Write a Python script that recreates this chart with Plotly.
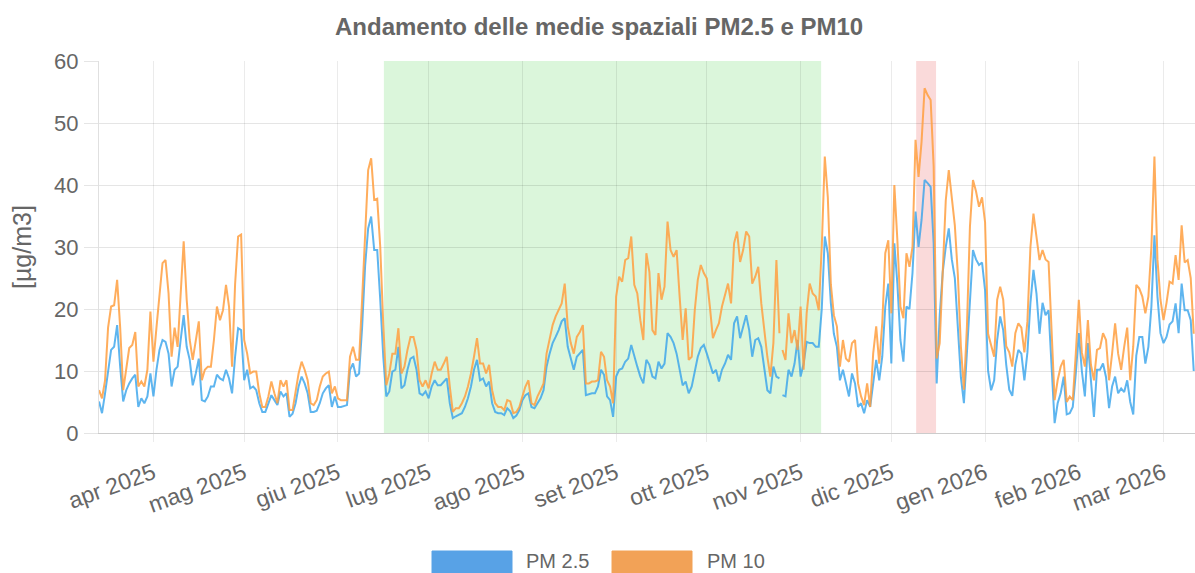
import datetime as dt
import plotly.graph_objects as go

START_DATE = "2025-03-14"

pm10 = [
    6.9, 5.6, 8.5, 17, 20.4, 20.6, 24.7, 17, 6.9, 10.7,
    13.7, 14.2, 16.3, 7.5, 8.3, 7.5, 10.2, 19.6, 11.5, 17,
    22.5, 27.4, 27.9, 22.5, 12.3, 17, 13.9, 23, 30.9, 21.5,
    15, 11.8, 15, 18, 8.5, 10.2, 10.7, 10.7, 15, 20.4,
    18.2, 19.8, 23.9, 20.4, 10.7, 24, 31.7, 32, 15, 12.8,
    9.6, 9.9, 9.9, 6.4, 4.2, 4.2, 5.9, 8.3, 6.4, 4.8,
    8.5, 7.5, 8.5, 3.7, 3.7, 6.4, 9.6, 11.5, 10.2, 8.5,
    4.8, 4.5, 5.3, 7.5, 9.1, 9.6, 9.9, 6.4, 7.5, 5.6,
    5.3, 5.3, 5.3, 12.3, 13.9, 11.8, 11.8, 21.5, 31, 42.4,
    44.3, 37.6, 37.8, 30, 17.5, 7.7, 9.6, 12.8, 12.8, 16.9,
    9.6, 10.7, 13.4, 15.5, 15.5, 13.4, 8.5, 7.5, 8.5, 7.2,
    9.6, 11.5, 10.2, 10.2, 11.2, 12.3, 7.5, 3.4, 4, 4,
    4.8, 5.9, 7.5, 9.6, 12.3, 15.3, 11.2, 11.2, 9.6, 11,
    6.9, 4.8, 4.2, 4.2, 3.7, 5.3, 5.1, 3.2, 3.4, 4.2,
    5.9, 7.5, 8.5, 4.8, 4.5, 5.9, 6.9, 8, 12.8, 15.3,
    17.4, 18.8, 19.8, 20.9, 24.1, 17.2, 14.5, 12.8, 15.5, 16.3,
    17.4, 8, 8, 8.3, 8.3, 8.5, 13.1, 12.3, 8.5, 7.5,
    4.8, 22, 25.2, 24.4, 27.9, 28.2, 31.7, 23.9, 22.5, 18.2,
    15, 29, 26, 16.6, 15.8, 25.8, 21.5, 23.6, 34.1, 29.5,
    28.4, 29.5, 22, 15, 20.1, 11.8, 12.3, 19.8, 24.7, 27.1,
    25.8, 24.9, 20.4, 15.3, 16.6, 17.7, 20.4, 22.5, 24.1, 20.9,
    30.6, 32.5, 27.6, 29.5, 32.5, 31.7, 24.1, 25.2, 26.8, 20.9,
    16, 12.3, 9.1, 14.5, 27.9, 16.1, 13.4, 11.8, 19.3, 14.5,
    16.6, 13.4, 20.4, 10.2, 19.3, 24.1, 22.5, 22, 19.8, 30,
    44.6, 38, 24, 19, 17.2, 10.7, 15, 12, 11.5, 14.5,
    15, 8, 5.9, 4.5, 8, 4.2, 12.8, 17.2, 11.2, 17.7,
    29, 31.1, 19.3, 40, 31.1, 20.4, 18.5, 29, 26.8, 30,
    47.3, 41.3, 47, 55.6, 54.5, 53.7, 43, 12, 14.5, 25.2,
    37.5, 42.4, 37.6, 33.5, 25.5, 14, 7, 17.2, 33.3, 40.8,
    39, 36.5, 38, 34, 16, 13.9, 12.3, 21.5, 23.6, 21.5,
    14, 13, 10.7, 16.1, 17.7, 17, 13, 18, 30, 35.4,
    32, 27.9, 29.5, 28, 27.6, 17.2, 5.3, 8.5, 10.7, 11.8,
    5, 5.9, 5.3, 12.8, 21.5, 13, 10.7, 18.2, 11, 8.5,
    13.4, 13.7, 16.1, 15, 8.5, 12.8, 17.7, 12.8, 10.2, 13.9,
    17, 8.5, 14, 23.9, 23.3, 22, 19.3, 22, 30, 44.6,
    28, 21.5, 18.2, 21, 24.4, 24.1, 28.7, 24.7, 33.5, 27.5,
    27.9, 25, 16,
]

pm25 = [
    5.1, 3.2, 6.4, 10.2, 13.4, 13.9, 17.4, 10.7, 5.1, 6.9,
    8, 8.8, 9.4, 4.2, 5.6, 4.8, 5.9, 9.6, 5.9, 10.2,
    13.4, 15, 14.7, 12.8, 7.5, 10.2, 10.7, 15, 19, 13.9,
    11.8, 7.7, 9.6, 12, 5.3, 5.1, 5.9, 7.5, 7.5, 9.4,
    8.8, 8.5, 10.2, 8.8, 6.4, 12.3, 16.9, 16.6, 8.5, 10.2,
    7.2, 7.5, 6.9, 4.8, 3.4, 3.4, 4.8, 6.1, 5.3, 4.5,
    6.7, 5.9, 6.4, 2.6, 3.1, 4.8, 7.5, 9.1, 8, 6.4,
    3.4, 3.4, 3.6, 4.8, 6.4, 7.2, 7.7, 4.2, 5.9, 4.2,
    4.2, 4.4, 4.5, 10.2, 11.2, 9.1, 9.6, 17, 27, 33,
    34.9, 29.5, 29.5, 21.5, 12.3, 5.9, 6.7, 9.9, 10.2, 13.9,
    7.2, 7.7, 10.2, 12, 12.3, 10.2, 6.4, 6.1, 6.7, 5.6,
    7.5, 8.5, 7.7, 7.7, 8.3, 8.8, 4.8, 2.4, 2.7, 2.9,
    3.2, 4.2, 5.6, 7.5, 10.2, 11.8, 8.5, 8.8, 7.5, 8.3,
    4.8, 3.4, 3.2, 3.2, 2.9, 4, 3.5, 2.4, 2.8, 3.7,
    5.3, 6.1, 6.4, 4.2, 4, 4.8, 5.6, 6.9, 10.7, 12.8,
    14.5, 15.5, 16.6, 18, 18.5, 13.9, 11.8, 10.2, 12.3, 12.8,
    13.4, 6.1, 6.3, 6.4, 6.4, 7.5, 10.2, 9.4, 5.9, 5.3,
    2.6, 9.1, 10.2, 10.4, 11.5, 12, 14.2, 12.3, 10.7, 9.1,
    8, 11.8, 11, 9.1, 8.8, 11.5, 10.4, 11.2, 16.1, 15.5,
    14.5, 12.8, 10.2, 7.7, 8.3, 6.4, 7.5, 10.2, 12.3, 13.7,
    14.2, 12.8, 11.2, 9.6, 10.2, 8.3, 10.2, 11.2, 12.6, 11.8,
    17.7, 18.8, 15.3, 17, 19, 16.6, 12.3, 15, 15.3, 13.9,
    10.2, 6.9, 6.4, 10.7, 9.1, 8.8, 6.1, 5.9, 10.2, 9.1,
    11.2, 15, 9.1, 11.2, 14.7, 14.5, 14.5, 13.9, 13.9, 20,
    31.7, 29, 21, 16, 13.9, 8.5, 10.2, 8, 5.9, 9.6,
    8, 4.2, 4.8, 3.2, 5.3, 4.2, 8.5, 11.8, 8.5, 12.3,
    20.4, 24.1, 11.2, 30.6, 24.1, 15, 11.5, 20.4, 20, 25.8,
    35.7, 30, 34.4, 40.8, 40.3, 39.7, 30.6, 8, 19, 26,
    30, 33, 28, 25, 17, 9, 4.8, 12.8, 22.5, 29.5,
    28, 27.1, 27.5, 23, 10, 6.9, 8.5, 15, 18.8, 16.6,
    11, 7, 6, 11, 13.4, 12.8, 8.5, 13, 21, 26.3,
    22.5, 16, 21, 19, 19.8, 10, 1.6, 4.8, 6.4, 9.1,
    3, 3.2, 4.2, 9.6, 16.1, 10, 5.9, 14.5, 8, 2.6,
    10.2, 10.2, 11.2, 9, 4, 7.5, 9.1, 6.4, 7.2, 6.6,
    8.5, 5, 3, 12.5, 15.5, 15.5, 11.2, 13.9, 20.4, 31.9,
    22, 16.1, 14.5, 15.5, 17.5, 18, 20.9, 16.1, 24.1, 19.8,
    19.8, 18.2, 10,
]

GAP_AFTER_INDEX = 225  # break in the series between these two days

green_period = ("2025-06-16 05:00", "2025-11-07 19:00")
red_period = ("2025-12-09 05:00", "2025-12-15 19:00")

tick_dates = ["2025-04-01", "2025-05-01", "2025-06-01", "2025-07-01", "2025-08-01",
              "2025-09-01", "2025-10-01", "2025-11-01", "2025-12-01", "2026-01-01",
              "2026-02-01", "2026-03-01"]
tick_labels = ["apr 2025", "mag 2025", "giu 2025", "lug 2025", "ago 2025", "set 2025",
               "ott 2025", "nov 2025", "dic 2025", "gen 2026", "feb 2026", "mar 2026"]

start = dt.datetime.fromisoformat(START_DATE)
dates = [start + dt.timedelta(days=i) for i in range(len(pm10))]


def with_gap(values):
    xs, ys = [], []
    for i, (d, v) in enumerate(zip(dates, values)):
        xs.append(d)
        ys.append(v)
        if i == GAP_AFTER_INDEX:
            xs.append(d + dt.timedelta(hours=12))
            ys.append(None)
    return xs, ys


FONT = "Liberation Sans, Arial, Helvetica, sans-serif"
GREY = "#666666"
BLUE = "rgba(54,162,235,0.8)"
ORANGE = "rgba(255,159,64,0.85)"

W, H = 1195, 573
L, PW, T, PH = 99, 1096, 61, 372


def py(page_y):
    return (T + PH - page_y) / PH


def px(page_x):
    return (page_x - L) / PW


fig = go.Figure()
x25, y25 = with_gap(pm25)
x10, y10 = with_gap(pm10)
fig.add_trace(go.Scatter(x=x25, y=y25, mode="lines", name="PM 2.5",
                         line=dict(color=BLUE, width=2), connectgaps=False))
fig.add_trace(go.Scatter(x=x10, y=y10, mode="lines", name="PM 10",
                         line=dict(color=ORANGE, width=2), connectgaps=False))

fig.add_shape(type="rect", xref="x", yref="paper", x0=green_period[0], x1=green_period[1],
              y0=0, y1=1, fillcolor="rgba(152,230,152,0.35)", line_width=0, layer="below")
fig.add_shape(type="rect", xref="x", yref="paper", x0=red_period[0], x1=red_period[1],
              y0=0, y1=1, fillcolor="rgba(240,150,150,0.35)", line_width=0, layer="below")

# legend drawn as Chart.js-style boxes
legend_items = [("PM 2.5", "#58a2e6", 432, 524), ("PM 10", "#f2a257", 612, 705)]
for label, col, bx, tx in legend_items:
    fig.add_shape(type="rect", xref="paper", yref="paper",
                  x0=px(bx), x1=px(bx + 80), y0=py(585), y1=py(551),
                  fillcolor=col, line=dict(color=col, width=1))
    fig.add_annotation(xref="paper", yref="paper", x=px(tx), y=py(561),
                       text=label, showarrow=False, xanchor="left", yanchor="middle",
                       font=dict(family=FONT, size=20, color=GREY))

# title and y-axis title
fig.add_annotation(xref="paper", yref="paper", x=px(599), y=py(26),
                   text="<b>Andamento delle medie spaziali PM2.5 e PM10</b>",
                   showarrow=False, xanchor="center", yanchor="middle",
                   font=dict(family=FONT, size=24, color=GREY))
fig.add_annotation(xref="paper", yref="paper", x=px(22), y=py(247),
                   text="[µg/m3]", textangle=-90,
                   showarrow=False, xanchor="center", yanchor="middle",
                   font=dict(family=FONT, size=25, color=GREY))

fig.update_layout(
    width=W, height=H,
    margin=dict(l=L, r=W - L - PW, t=T, b=H - T - PH, autoexpand=False),
    paper_bgcolor="white", plot_bgcolor="white",
    showlegend=False,
    font=dict(family=FONT, color=GREY),
)
fig.update_xaxes(
    type="date", automargin=False,
    range=[dates[0], dates[-1] + dt.timedelta(hours=10)],
    tickvals=tick_dates, ticktext=tick_labels, tickangle=-20,
    tickfont=dict(family=FONT, size=23, color=GREY),
    showgrid=True, gridcolor="rgba(0,0,0,0.08)", gridwidth=1,
    ticks="outside", ticklen=8, tickcolor="rgba(0,0,0,0.08)",
    ticklabelstandoff=9,
    showline=True, linecolor="rgba(0,0,0,0.2)", linewidth=1,
    zeroline=False,
)
fig.update_yaxes(
    automargin=False,
    range=[0, 60], dtick=10,
    tickfont=dict(family=FONT, size=22, color=GREY),
    showgrid=True, gridcolor="rgba(0,0,0,0.1)", gridwidth=1,
    ticks="outside", ticklen=14, tickcolor="rgba(0,0,0,0.1)",
    ticklabelstandoff=1,
    showline=True, linecolor="rgba(0,0,0,0.12)", linewidth=1,
    zeroline=True, zerolinecolor="rgba(0,0,0,0.2)", zerolinewidth=1,
)

fig.write_html(
    "out.html",
    config={"displayModeBar": False},
    post_script="document.body.style.margin='0';document.body.style.overflow='hidden';",
)
